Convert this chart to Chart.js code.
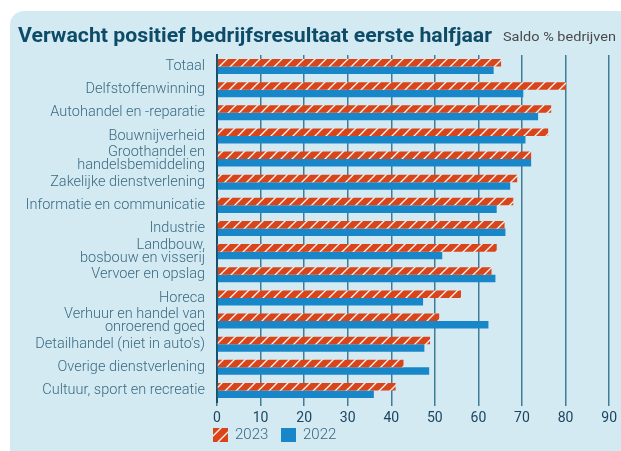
<!DOCTYPE html>
<html>
<head>
<meta charset="utf-8">
<script src="https://cdn.jsdelivr.net/npm/chart.js@4.4.1/dist/chart.umd.min.js"></script>
<style>
  html, body { margin: 0; padding: 0; background: #ffffff; }
  #wrap { width: 621px; height: 451px; position: relative; }
</style>
</head>
<body>
<div id="wrap"><canvas id="chart" width="621" height="451"></canvas></div>
<script>
// categories (multi-line labels as arrays)
const sectors = [
  'Totaal',
  'Delfstoffenwinning',
  'Autohandel en -reparatie',
  'Bouwnijverheid',
  ['Groothandel en', 'handelsbemiddeling'],
  'Zakelijke dienstverlening',
  'Informatie en communicatie',
  'Industrie',
  ['Landbouw,', 'bosbouw en visserij'],
  'Vervoer en opslag',
  'Horeca',
  ['Verhuur en handel van', 'onroerend goed'],
  "Detailhandel (niet in auto's)",
  'Overige dienstverlening',
  'Cultuur, sport en recreatie'
];
const values2023 = [65.2, 80.1, 76.7, 76.0, 72.1, 68.9, 68.0, 66.0, 64.2, 63.0, 56.0, 51.0, 48.9, 42.8, 41.0];
const values2022 = [63.5, 70.3, 73.7, 70.8, 72.1, 67.3, 64.2, 66.2, 51.7, 63.9, 47.3, 62.3, 47.6, 48.7, 36.0];
const xTicks = [0, 10, 20, 30, 40, 50, 60, 70, 80, 90];

const ORANGE = '#d8451a';
const BLUE = '#1787c9';

// hatched fill for 2023
function makeHatch() {
  const c = document.createElement('canvas');
  c.width = 11; c.height = 11;
  const g = c.getContext('2d');
  g.fillStyle = ORANGE;
  g.fillRect(0, 0, 11, 11);
  g.strokeStyle = 'rgba(255,255,255,0.95)';
  g.lineWidth = 1.3;
  g.beginPath();
  g.moveTo(-1, 12); g.lineTo(12, -1);
  g.moveTo(-1, 1); g.lineTo(1, -1);
  g.moveTo(10, 12); g.lineTo(12, 10);
  g.stroke();
  return g.createPattern(c, 'repeat');
}

const ctx = document.getElementById('chart').getContext('2d');
const hatch = makeHatch();

// panel background, title, subtitle and legend
const decor = {
  id: 'decor',
  beforeDraw(chart) {
    const c = chart.ctx;
    c.save();
    c.fillStyle = '#d4eaf3';
    c.beginPath();
    c.roundRect(10, 11, 640, 460, 14);
    c.fill();
    c.restore();
  },
  afterDraw(chart) {
    const c = chart.ctx;
    c.save();
    // title, squeezed to the width it has in the original
    const title = 'Verwacht positief bedrijfsresultaat eerste halfjaar';
    c.font = 'bold 21px Roboto';
    const w = c.measureText(title).width;
    c.fillStyle = '#0d4c68';
    c.textBaseline = 'alphabetic';
    c.translate(18, 42);
    c.scale(474 / w, 1);
    c.fillText(title, 0, 0);
    c.setTransform(1, 0, 0, 1, 0, 0);
    c.font = '13px Roboto';
    c.fillStyle = '#4a4a4a';
    const sub = 'Saldo % bedrijven';
    const sw = c.measureText(sub).width;
    c.save();
    c.translate(503, 41);
    c.scale(113 / sw, 1);
    c.fillText(sub, 0, 0);
    c.restore();

    // legend
    const items = [
      { x: 213, text: '2023', ds: chart.data.datasets[0] },
      { x: 281, text: '2022', ds: chart.data.datasets[1] }
    ];
    c.font = '300 15px Roboto';
    c.textBaseline = 'middle';
    items.forEach(it => {
      c.fillStyle = it.ds.backgroundColor;
      c.fillRect(it.x, 428, 15, 14);
      c.fillStyle = '#3b6680';
      c.fillText(it.text, it.x + 22, 435.5);
    });
    c.restore();
  }
};

new Chart(ctx, {
  type: 'bar',
  data: {
    labels: sectors,
    datasets: [
      { label: '2023', data: values2023, backgroundColor: hatch, borderWidth: 0 },
      { label: '2022', data: values2022, backgroundColor: BLUE, borderWidth: 0 }
    ]
  },
  options: {
    indexAxis: 'y',
    responsive: false,
    animation: false,
    devicePixelRatio: 1,
    layout: { padding: { left: 10, top: 55, right: 8, bottom: 24 } },
    datasets: { bar: { categoryPercentage: 0.65, barPercentage: 1.0 } },
    plugins: {
      legend: { display: false },
      title: { display: false },
      tooltip: { enabled: false }
    },
    scales: {
      x: {
        min: 0,
        max: 90,
        afterBuildTicks(scale) { scale.ticks = xTicks.map(v => ({ value: v })); },
        afterFit(scale) { scale.height = 25; },
        grid: { color: '#3f7d97', lineWidth: 1.5, drawTicks: true, tickLength: 4, tickColor: '#3f7d97' },
        border: { display: false },
        ticks: { color: '#1b4562', font: { family: 'Roboto', size: 14 }, padding: 4 }
      },
      y: {
        afterFit(scale) { scale.width = 207; },
        grid: { display: false, drawTicks: false },
        border: { display: true, color: '#17506b', width: 2 },
        ticks: {
          color: '#3b6a82',
          font: { family: 'Roboto', size: 14.5, weight: '300', lineHeight: 0.92 },
          padding: 12,
          autoSkip: false
        }
      }
    }
  },
  plugins: [decor]
});
</script>
</body>
</html>
